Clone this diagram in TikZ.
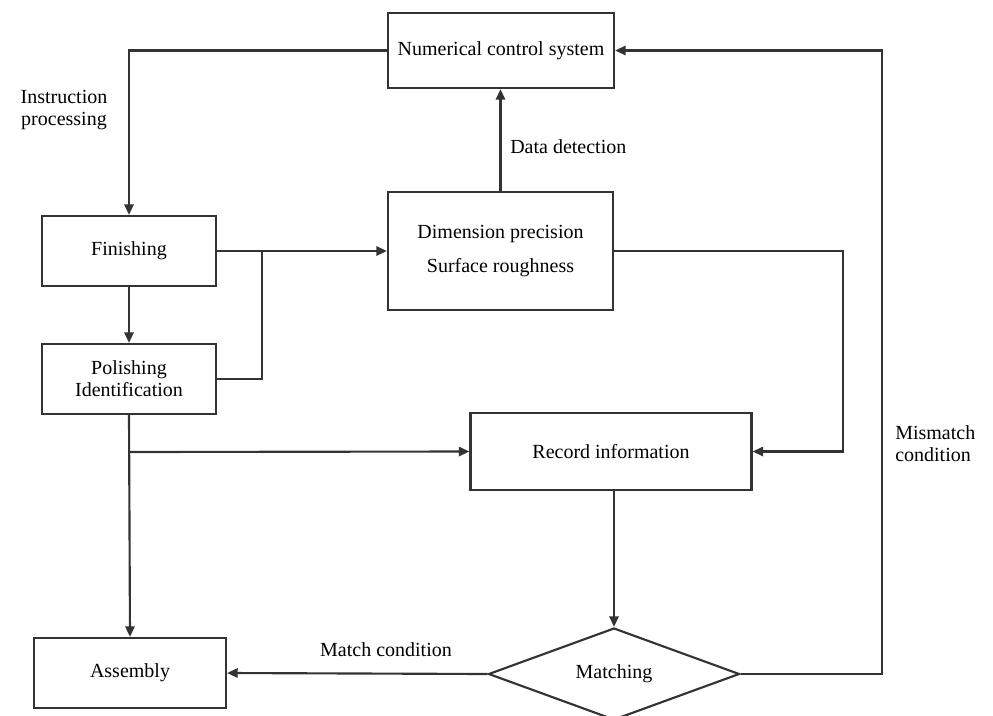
\documentclass[tikz,border=0pt]{standalone}
\usepackage{fontspec}
\setmainfont{Liberation Serif}
\usetikzlibrary{arrows.meta,shapes.geometric}
\begin{document}
\begin{tikzpicture}[x=0.75pt,y=-0.75pt,
  font=\fontsize{15}{16.5}\selectfont,
  box/.style={draw=black!80,line width=1.6pt,rectangle,inner sep=0pt,align=center},
  dec/.style={draw=black!80,line width=1.6pt,diamond,inner sep=0pt,aspect=2.7},
  conn/.style={draw=black!80,line width=1.6pt},
  arr/.style={conn,-{Triangle[length=8pt,width=7pt]}},
  lbl/.style={inner sep=0pt,align=center}]
\useasboundingbox (0,0) rectangle (993,715);
\node[box,minimum width=169.5pt,minimum height=56.25pt] (ncs) at (501,50.5) {Numerical control system};
\node[box,minimum width=130.5pt,minimum height=52.5pt] (fin) at (129,251) {Finishing};
\node[box,minimum width=130.5pt,minimum height=52.5pt] (pol) at (129,379) {Polishing\\Identification};
\node[box,minimum width=168.75pt,minimum height=88.5pt] (dp) at (500.5,251) {Dimension precision\\[9pt]Surface roughness};
\node[box,minimum width=210.75pt,minimum height=57.75pt] (rec) at (611,451.5) {Record information};
\node[box,minimum width=144pt,minimum height=52.5pt] (asm) at (130,673) {Assembly};
\node[dec,minimum width=188.25pt,minimum height=69pt] (mat) at (614,674) {Matching};
% labels
\node[lbl] (lip) at (64,110) {Instruction\\processing};
\node[lbl,anchor=west] (ldd) at (510,147) {Data detection};
\node[lbl] (lmc) at (386,650) {Match condition};
\node[lbl,anchor=west,align=left] (lmm) at (895,444) {Mismatch\\condition};
% helper coordinates
\coordinate (j) at (262,251);
\coordinate (b) at (129,452);
\coordinate (r1) at (843,251);
\coordinate (r2) at (882,674);
% connectors
\draw[arr] (ncs.west) -| (fin.north);
\draw[arr] (fin.south) -- (pol.north);
\draw[arr] (fin.east) -- (dp.west);
\draw[conn] (pol.east) -| (j);
\draw[arr] (dp.north) -- (dp.north |- ncs.south);
\draw[arr] (dp.east) -- (r1) |- (rec.east);
\draw[arr] (pol.south) -- (asm.north);
\draw[arr] (b) -- (rec.west);
\draw[arr] (mat.north |- rec.south) -- (mat.north);
\draw[arr] (mat.west) -- (asm.east);
\draw[arr] (mat.east) -- (r2) |- (ncs.east);
\end{tikzpicture}
\end{document}
